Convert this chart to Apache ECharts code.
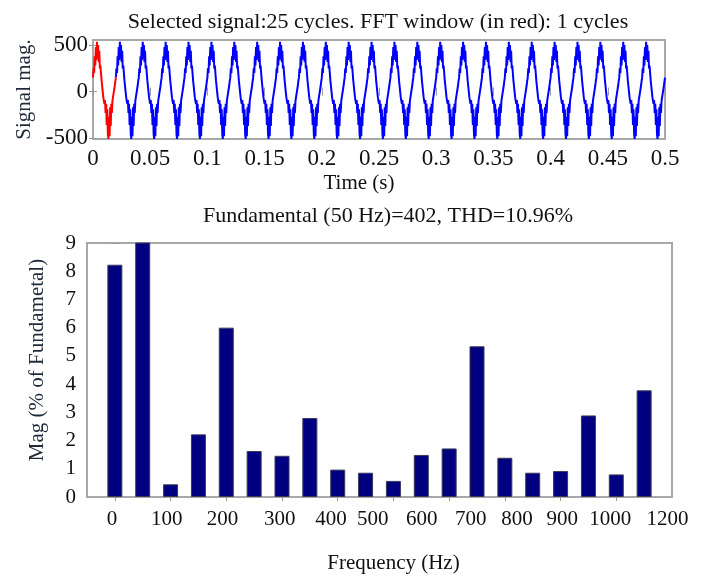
<!DOCTYPE html>
<html>
<head>
<meta charset="utf-8">
<script src="https://cdn.jsdelivr.net/npm/echarts@6/dist/echarts.min.js"></script>
<style>
html,body{margin:0;padding:0;background:#fff;}
#chart{width:706px;height:579px;}
</style>
</head>
<body>
<div id="chart"></div>
<script>
// ---- Signal: one 50 Hz cycle (ms within cycle, magnitude) ----
const cycleMs   = [0,0.5,1,1.5,2,2.5,3,3.5,4,4.5,5,5.5,6,6.5,7,7.5,8,8.5,9,9.5,10,10.5,11,11.5,12,12.5,13,13.5,14,14.5,15,15.5,16,16.5,17,17.5,18,18.5,19,19.5];
const cycleVals = [150,250,200,380,280,480,340,535,360,500,320,440,250,280,200,120,60,0,-60,-100,-130,-90,-230,-130,-360,-190,-460,-510,-270,-480,-170,-370,-130,-230,-100,-60,-20,20,60,110];
const cycleCount = 25;          // "Selected signal:25 cycles"
const fftCycles = 1;            // FFT window (in red)
const sigTicks = [-500,0,500];

// ---- FFT harmonics ----
const freqs = [0,50,100,150,200,250,300,350,400,450,500,550,600,650,700,750,800,850,900,950];
const mags  = [8.23,9.05,0.45,2.22,6.0,1.63,1.46,2.80,0.97,0.86,0.57,1.49,1.72,5.34,1.39,0.86,0.92,2.89,0.80,3.78];
const freqLabelText = ['0','100','200','300','400','500','600','700','800','900','1000','1200'];
const freqLabelAt   = [-5,93,193,296,388,463,551,639,722,803,889,992];
const freqTicks = [0,100,200,300,400,500,600,700,800,900];

// tile the read cycle over the selected signal
const redData = [], blueData = [];
for (let k = 0; k < cycleCount; k++) {
  for (let i = 0; i < cycleMs.length; i++) {
    const t = +(k * 0.02 + cycleMs[i] / 1000).toFixed(5);
    const p = [t, cycleVals[i]];
    if (k < fftCycles) redData.push(p); else blueData.push(p);
  }
}
redData.push([0.02, cycleVals[0]]);
blueData.push([0.5, cycleVals[0]]);

const F = 'Liberation Serif, Times New Roman, serif';
const tickStyle = {show:true, inside:true, length:4, lineStyle:{color:'#999', width:1}};
const labelMap = {};
freqLabelAt.forEach((v,i)=>{ labelMap[v] = freqLabelText[i]; });

const chart = echarts.init(document.getElementById('chart'));
chart.setOption({
  animation:false,
  backgroundColor:'#fff',
  title:[
    {text:'Selected signal:25 cycles. FFT window (in red): 1 cycles', left:373, top:6, textAlign:'center',
     textStyle:{fontFamily:F, fontSize:22, fontWeight:'normal', color:'#111'}},
    {text:'Fundamental (50 Hz)=402, THD=10.96%', left:383, top:200, textAlign:'center',
     textStyle:{fontFamily:F, fontSize:22, fontWeight:'normal', color:'#111'}}
  ],
  grid:[
    {left:93, top:40, width:572, height:99, show:true, borderColor:'#a8a8a8', borderWidth:2, backgroundColor:'#fff'},
    {left:87, top:243, width:585, height:254, show:true, borderColor:'#a8a8a8', borderWidth:2, backgroundColor:'#fff'}
  ],
  xAxis:[
    {type:'value', gridIndex:0, min:0, max:0.5, interval:0.05, position:'bottom',
     axisLine:{show:false}, splitLine:{show:false}, axisTick:tickStyle,
     axisLabel:{fontFamily:F, fontSize:23, color:'#111', margin:8, formatter:v=>String(+v.toFixed(2))},
     name:'Time (s)', nameLocation:'middle', nameGap:34,
     nameTextStyle:{fontFamily:F, fontSize:21, color:'#111', padding:[0,40,0,0]}},
    {type:'value', gridIndex:0, min:0, max:0.5, interval:0.05, position:'top',
     axisLine:{show:false}, splitLine:{show:false}, axisTick:tickStyle, axisLabel:{show:false}},
    {type:'value', gridIndex:1, min:-50, max:1000, position:'bottom',
     axisLine:{show:false}, splitLine:{show:false},
     axisTick:Object.assign({}, tickStyle, {customValues:freqTicks}),
     axisLabel:{show:false},
     name:'Frequency (Hz)', nameLocation:'middle', nameGap:56,
     nameTextStyle:{fontFamily:F, fontSize:21, color:'#111', padding:[0,0,0,28]}},
    {type:'value', gridIndex:1, min:-50, max:1000, position:'top',
     axisLine:{show:false}, splitLine:{show:false},
     axisTick:Object.assign({}, tickStyle, {customValues:freqTicks}), axisLabel:{show:false}},
    {type:'value', gridIndex:1, min:-50, max:1000, position:'bottom',
     axisLine:{show:false}, splitLine:{show:false}, axisTick:{show:false},
     axisLabel:{customValues:freqLabelAt, fontFamily:F, fontSize:21, color:'#111', margin:12,
                formatter:v=>labelMap[v]}}
  ],
  yAxis:[
    {type:'value', gridIndex:0, min:-510, max:555, position:'left',
     axisLine:{show:false}, splitLine:{show:false},
     axisTick:Object.assign({}, tickStyle, {customValues:sigTicks}),
     axisLabel:{customValues:sigTicks, fontFamily:F, fontSize:23, color:'#111', margin:5},
     name:'Signal mag.', nameLocation:'middle', nameGap:57,
     nameTextStyle:{fontFamily:F, fontSize:21, color:'#1e2a3a'}},
    {type:'value', gridIndex:0, min:-510, max:555, position:'right',
     axisLine:{show:false}, splitLine:{show:false},
     axisTick:Object.assign({}, tickStyle, {customValues:sigTicks}), axisLabel:{show:false}},
    {type:'value', gridIndex:1, min:0, max:9, interval:1, position:'left',
     axisLine:{show:false}, splitLine:{show:false}, axisTick:tickStyle,
     axisLabel:{fontFamily:F, fontSize:21, color:'#111', margin:11},
     name:'Mag (% of Fundametal)', nameLocation:'middle', nameGap:39,
     nameTextStyle:{fontFamily:F, fontSize:21, color:'#1e2a3a', padding:[0,0,0,20]}},
    {type:'value', gridIndex:1, min:0, max:9, interval:1, position:'right',
     axisLine:{show:false}, splitLine:{show:false}, axisTick:tickStyle, axisLabel:{show:false}}
  ],
  series:[
    {type:'line', xAxisIndex:0, yAxisIndex:0, data:blueData, showSymbol:false, sampling:false,
     lineStyle:{color:'#0000ff', width:2}, z:3},
    {type:'line', xAxisIndex:0, yAxisIndex:0, data:redData, showSymbol:false,
     lineStyle:{color:'#ff0000', width:2}, z:4},
    {type:'bar', xAxisIndex:2, yAxisIndex:2, data:freqs.map((f,i)=>[f,mags[i]]), barWidth:15, clip:true,
     itemStyle:{color:'#000080', borderColor:'#3a3a5a', borderWidth:1}}
  ]
});
</script>
</body>
</html>
